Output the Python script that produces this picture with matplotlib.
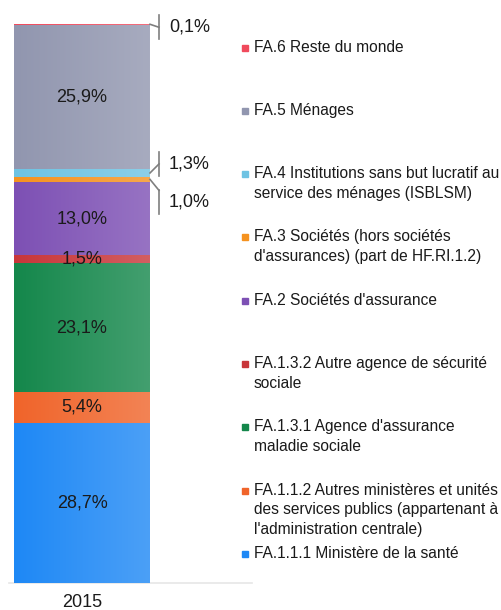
import numpy as np
import matplotlib.pyplot as plt
from matplotlib.colors import to_rgb
from matplotlib.patches import Rectangle

plt.rcParams['font.family'] = ['Liberation Sans', 'DejaVu Sans']

year = "2015"
# bottom to top
series = [
    "FA.1.1.1 Ministère de la santé",
    "FA.1.1.2 Autres ministères et unités\ndes services publics (appartenant à\nl'administration centrale)",
    "FA.1.3.1 Agence d'assurance\nmaladie sociale",
    "FA.1.3.2 Autre agence de sécurité\nsociale",
    "FA.2 Sociétés d'assurance",
    "FA.3 Sociétés (hors sociétés\nd'assurances) (part de HF.RI.1.2)",
    "FA.4 Institutions sans but lucratif au\nservice des ménages (ISBLSM)",
    "FA.5 Ménages",
    "FA.6 Reste du monde",
]
values = [28.7, 5.4, 23.1, 1.5, 13.0, 1.0, 1.3, 25.9, 0.1]
colors = ["#1e88f5", "#f0642a", "#14874b", "#c8363a", "#7d50b4",
          "#f5921f", "#6ec3e3", "#9196af", "#f04a5c"]

W, H = 502, 610
fig = plt.figure(figsize=(W / 100, H / 100), dpi=100)
ax_l, ax_r, ax_b, ax_t = 9, 252, 583, 24
ax = fig.add_axes([ax_l / W, 1 - ax_b / H, (ax_r - ax_l) / W, (ax_b - ax_t) / H])
ax.set_xlim(0, 1)
ax.set_ylim(0, 100)

def px_x(p):
    return (p - ax_l) / (ax_r - ax_l)

def px_dy(p):
    return p * 100 / (ax_b - ax_t)

bar_x = px_x(82)
bar_w = px_x(150) - px_x(14)

bottom = 0
mids = []
for v, c in zip(values, colors):
    rect = ax.bar(bar_x, v, bar_w, bottom=bottom, color=c, linewidth=0, zorder=2)[0]
    c1 = np.array(to_rgb(c))
    c2 = c1 + (1 - c1) * 0.2
    grad = np.linspace(0, 1, 128)[None, :, None]
    img = c1 * (1 - grad) + c2 * grad
    x0, y0 = rect.get_x(), rect.get_y()
    im = ax.imshow(img, extent=[x0, x0 + rect.get_width(), y0, y0 + rect.get_height()],
                   aspect='auto', zorder=3, interpolation='bilinear')
    im.set_clip_path(rect)
    mids.append(bottom + v / 2)
    bottom += v

def fmt(v):
    return f"{v:.1f}%".replace(".", ",")

# labels inside the bar
for v, m in zip(values, mids):
    if v >= 1.5:
        ax.text(bar_x, m, fmt(v), ha='center', va='center', fontsize=13,
                color='#1a1a1a', zorder=5)

# small segments: labels outside with leader lines (label offset in px)
outside = {8: 3, 6: -9, 5: 23}
stub_x = px_x(159)
edge_x = px_x(150)
for i, off in outside.items():
    m = mids[i]
    ly = m - px_dy(off)
    top, bot = ly + px_dy(12), ly - px_dy(12)
    if bot <= m <= top:
        ey = ly
    else:
        ey = top if m > top else bot
    ax.plot([edge_x, stub_x], [m, ey], color='#7f7f7f', lw=1.2, clip_on=False, zorder=4)
    ax.plot([stub_x, stub_x], [bot, top], color='#7f7f7f', lw=1.2, clip_on=False, zorder=4)
    ax.text(px_x(169), ly, fmt(values[i]), ha='left', va='center', fontsize=13,
            color='#1a1a1a')

for s in ['top', 'left', 'right']:
    ax.spines[s].set_visible(False)
ax.spines['bottom'].set_color('#e6e6e6')
ax.spines['bottom'].set_linewidth(1.2)
ax.set_yticks([])
ax.set_xticks([bar_x])
ax.set_xticklabels([year], fontsize=13, color='#1a1a1a')
ax.tick_params(axis='x', length=0, pad=8)

# legend, top to bottom
for k, i in enumerate(range(len(series) - 1, -1, -1)):
    yc = 47.5 + 63.3 * k
    fig.patches.append(Rectangle(((242) / W, 1 - (yc + 3) / H), 6 / W, 6 / H,
                                 transform=fig.transFigure, color=colors[i]))
    fig.text(254 / W, 1 - (yc - 8) / H, series[i], ha='left', va='top',
             fontsize=11.2, linespacing=1.38, color='#1a1a1a')

fig.savefig("out.png", dpi=100)
